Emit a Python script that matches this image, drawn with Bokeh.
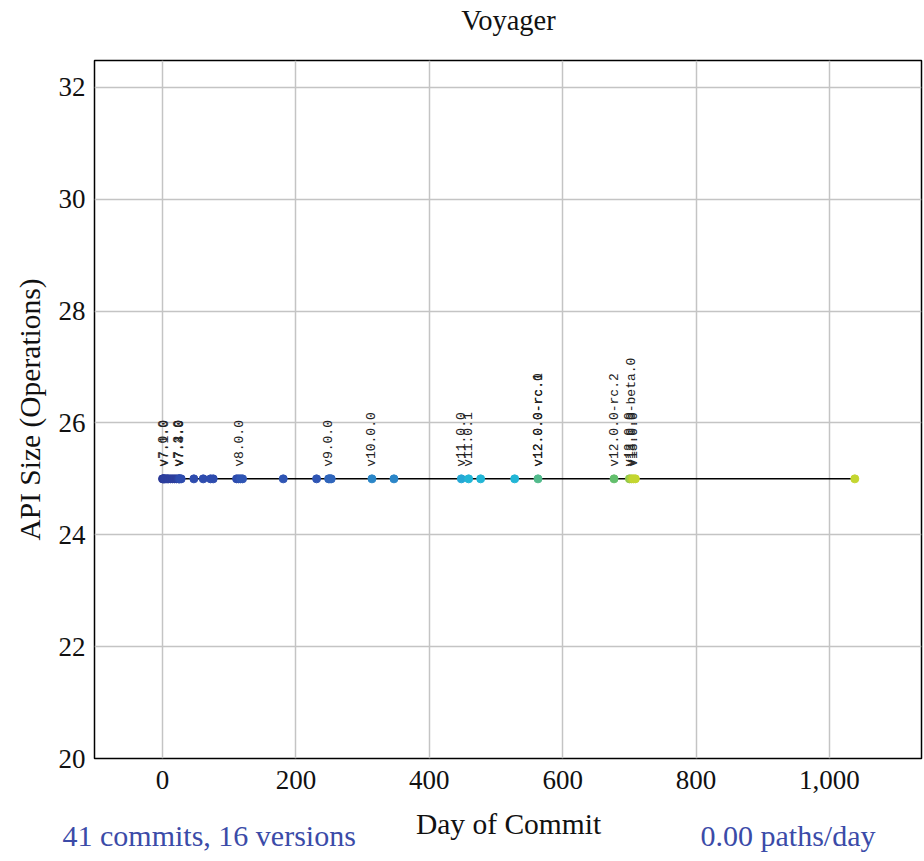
import math
from bokeh.plotting import figure
from bokeh.layouts import column
from bokeh.models import Range1d, FixedTicker, NumeralTickFormatter, ColumnDataSource
from bokeh.core.properties import value
from bokeh.embed import file_html
from bokeh.resources import INLINE

# Commit days and API size (operations) at each commit
commit_days = [0, 1, 2, 3, 5, 7, 9, 12, 15, 18, 21, 24, 25, 26, 28,
               47, 61, 72, 76, 111, 114, 117, 120, 181,
               231, 249, 251, 253, 314, 347,
               448, 459, 477, 528, 563,
               677, 700, 703, 706, 709, 1038]
api_size = [25] * len(commit_days)

# Tagged versions and the day they were released
version_names = ["v7.0.0", "v7.1.0", "v7.2.0", "v7.3.0", "v7.4.0", "v8.0.0",
                 "v9.0.0", "v10.0.0", "v11.0.0", "v11.0.1",
                 "v12.0.0-rc.0", "v12.0.0-rc.1", "v12.0.0-rc.2",
                 "v12.0.0", "v13.0.0-beta.0", "v13.0.0"]
version_days = [2, 3, 24, 25, 26, 115, 249, 314, 448, 459, 563, 563, 677, 700, 703, 706]
version_size = [25] * len(version_days)

x_ticks = [0, 200, 400, 600, 800, 1000]
y_ticks = [20, 22, 24, 26, 28, 30, 32]

title_text = "Voyager"
x_label = "Day of Commit"
y_label = "API Size (Operations)"
summary_left = "41 commits, 16 versions"
summary_right = "0.00 paths/day"

# One colour per version, dark blue through cyan and green to yellow-green
palette = ["#2c3a98", "#2d3f9e", "#2d44a4", "#2e48a9", "#2e4cae", "#2f55b4",
           "#3066bc", "#2b86c8", "#25a8d6", "#22b6d6", "#3cbcb0", "#52bb8c",
           "#62bf6c", "#90c84c", "#b0d03a", "#c4d630"]

def version_index(day):
    idx = 0
    for i, d in enumerate(version_days):
        if d <= day:
            idx = i
    return idx

point_colors = [palette[version_index(d)] for d in commit_days]

SERIF = "Liberation Serif"
MONO = "Liberation Mono"
TEXT = "#111111"
NOTE = "#3b4ba8"
W = 924
TOP_H = 40
BOTTOM_H = 61


def text_strip(height):
    """A bare full-width band used to hold free-standing captions."""
    s = figure(width=W, height=height, x_range=Range1d(0, W), y_range=Range1d(0, height),
               min_border=0, x_axis_type=None, y_axis_type=None,
               output_backend="svg", toolbar_location=None)
    s.frame_align = False
    s.outline_line_color = None
    s.grid.visible = False
    s.background_fill_color = "white"
    s.border_fill_color = "white"
    return s


# Main chart
p = figure(frame_width=827, frame_height=698,
           min_border_left=94, min_border_right=3, min_border_top=20, min_border_bottom=42,
           x_range=Range1d(-102, 1138), y_range=Range1d(20, 32.48),
           output_backend="svg", toolbar_location=None)
p.frame_align = False

p.outline_line_color = "black"
p.outline_line_width = 1.5
p.background_fill_color = "white"
p.border_fill_color = "white"

for ax in (p.xaxis[0], p.yaxis[0]):
    ax.axis_line_color = None
    ax.major_tick_line_color = None
    ax.minor_tick_line_color = None
    ax.major_label_text_font = SERIF
    ax.major_label_text_font_size = "27px"
    ax.major_label_text_color = TEXT
    ax.axis_label_text_font = SERIF
    ax.axis_label_text_font_size = "29.5px"
    ax.axis_label_text_font_style = "normal"
    ax.axis_label_text_color = TEXT

p.xaxis.ticker = FixedTicker(ticks=x_ticks)
p.xaxis.formatter = NumeralTickFormatter(format="0,0")
p.xaxis.major_label_standoff = 6

p.yaxis.ticker = FixedTicker(ticks=y_ticks)
p.yaxis.major_label_standoff = 3
p.yaxis.axis_label = y_label
p.yaxis.axis_label_standoff = 10

p.grid.grid_line_color = "#c4c4c4"
p.grid.grid_line_width = 1.5

# Size over time
p.line(commit_days, api_size, line_color="black", line_width=1.5)
p.scatter(commit_days, api_size, size=8, fill_color=point_colors, line_color=point_colors)

# Version tags, written upwards from the commit they label
vsrc = ColumnDataSource(dict(x=version_days, y=version_size, t=version_names))
p.text(x="x", y="y", text="t", source=vsrc, angle=math.pi / 2,
       text_align="left", text_baseline="middle", y_offset=-12,
       text_font=value(MONO), text_font_size="13px", text_color="#222222")

# Title band
top = text_strip(TOP_H)
top.text(x=[508], y=[20], text=[title_text], text_align="center", text_baseline="middle",
         text_font=value(SERIF), text_font_size="28.5px", text_color=TEXT)

# Footer band: x-axis caption with the summary notes either side
bottom = text_strip(BOTTOM_H)
bottom.text(x=[508], y=[38], text=[x_label], text_align="center", text_baseline="middle",
            text_font=value(SERIF), text_font_size="29.5px", text_color=TEXT)
bottom.text(x=[62], y=[26], text=[summary_left], text_align="left", text_baseline="middle",
            text_font=value(SERIF), text_font_size="30px", text_color=NOTE)
bottom.text(x=[875], y=[26], text=[summary_right], text_align="right", text_baseline="middle",
            text_font=value(SERIF), text_font_size="30px", text_color=NOTE)

layout = column(top, p, bottom, spacing=0)
open("out.html", "w").write(file_html(layout, INLINE))
